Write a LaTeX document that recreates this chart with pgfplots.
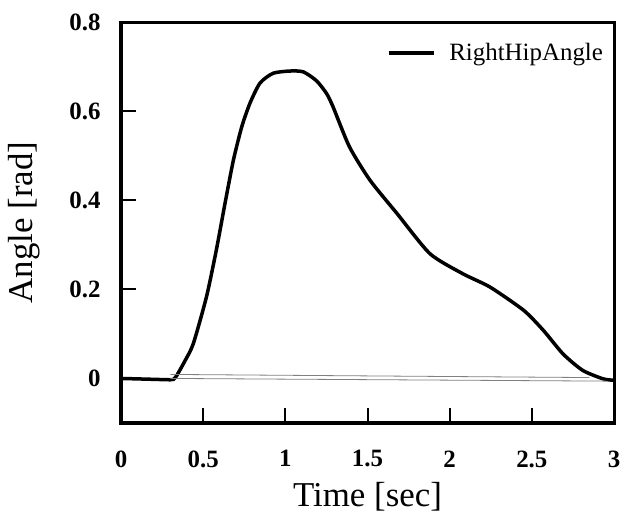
\documentclass[border=0pt]{standalone}
\usepackage{fontspec}
\setmainfont{Liberation Serif}
\usepackage{pgfplots}
\pgfplotsset{compat=1.18}
\begin{document}
\begin{tikzpicture}
\begin{axis}[
 scale only axis, width=493bp, height=401bp,
 xmin=0, xmax=3, ymin=-0.1, ymax=0.8,
 axis line style={line width=3bp},
 xtick={0,0.5,1,1.5,2,2.5,3}, ytick={0,0.2,0.4,0.6,0.8},
 xticklabels={0,0.5,1,1.5,2,2.5,3}, yticklabels={0,0.2,0.4,0.6,0.8},
 tick align=inside, tick pos=left, major tick length=15bp,
 major tick style={line width=2bp, black},
 tick label style={font=\fontsize{25}{28}\selectfont\bfseries},
 xticklabel style={yshift=-24bp},
 yticklabel style={xshift=-17bp},
 xlabel={Time [sec]}, ylabel={Angle [rad]},
 label style={font=\fontsize{35}{40}\selectfont},
 xlabel style={yshift=-8bp},
 ylabel style={at={(ticklabel cs:0.5)}, yshift=22bp},
 legend style={draw=none, fill=none, at={(rel axis cs:0.982,0.923)}, anchor=east,
   inner sep=0pt, column sep=12bp, font=\fontsize{25}{28}\selectfont},
 legend cell align=left,
 legend image code/.code={\draw[#1] (0bp,0bp) -- (45bp,0bp);},
]
\addplot[black, line width=3.5bp, smooth, tension=0.4] coordinates {
(0,0.0) (0.1,-0.001) (0.2,-0.002) (0.3,-0.003) (0.32,-0.002) (0.34,0.007) (0.39,0.04)
(0.44,0.078) (0.52,0.183) (0.58,0.288) (0.633,0.393) (0.684,0.49) (0.735,0.565)
(0.785,0.618) (0.846,0.663) (0.926,0.685) (1.03,0.69) (1.11,0.688) (1.19,0.668)
(1.25,0.64) (1.29,0.61) (1.39,0.52) (1.515,0.445) (1.68,0.37) (1.88,0.28) (2.08,0.235)
(2.246,0.205) (2.45,0.153) (2.57,0.108) (2.69,0.055) (2.81,0.018) (2.935,-0.001) (3.0,-0.004)
};
\addlegendentry{RightHipAngle}
\addplot[gray, line width=0.8bp, forget plot] coordinates {(0.3,0.009) (2.85,0.002)};
\addplot[gray, line width=0.8bp, forget plot] coordinates {(0.3,0.0) (2.95,-0.006)};
\end{axis}
\draw[line width=3bp, black] (current axis.south west) rectangle (current axis.north east);
\path (current axis.south west) ++(-121bp,-93bp) rectangle ++(628bp,516bp);
\end{tikzpicture}
\end{document}
